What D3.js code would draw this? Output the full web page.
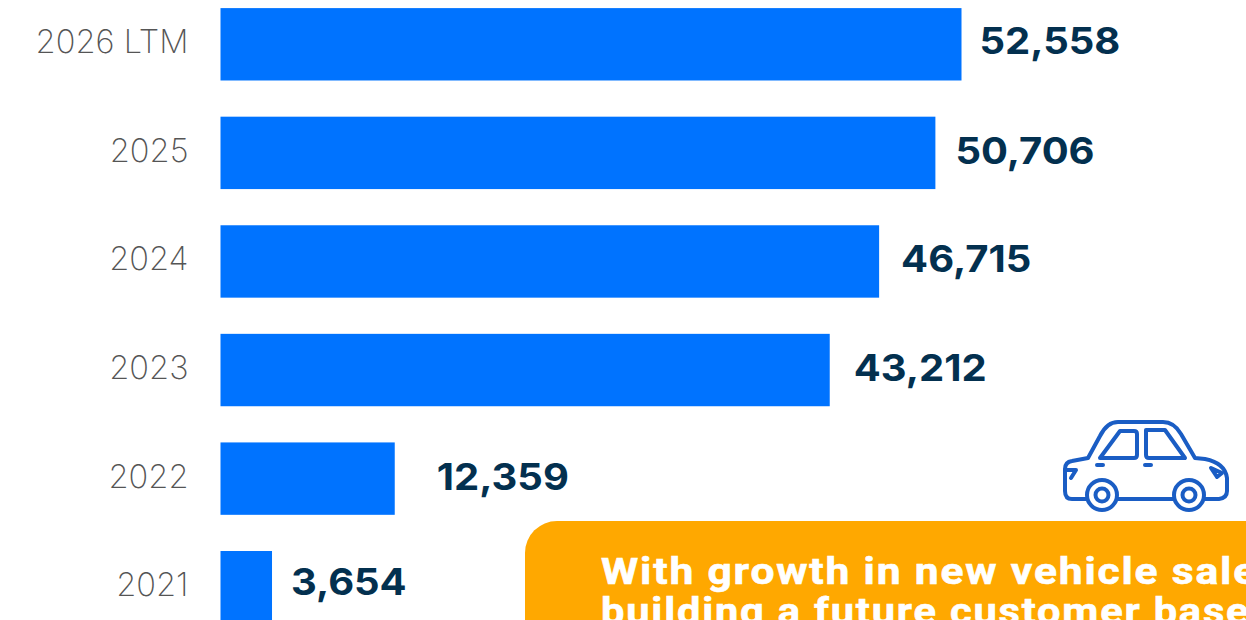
<!DOCTYPE html>
<html>
<head>
<meta charset="utf-8">
<script src="https://cdn.jsdelivr.net/npm/d3@7/dist/d3.min.js"></script>
<style>
  html, body { margin: 0; padding: 0; background: #fff; overflow: hidden; }
  svg { display: block; }
</style>
</head>
<body>
<svg id="chart" width="1246" height="620"></svg>
<script>
// Vehicle sales by year
const years = ["2026 LTM", "2025", "2024", "2023", "2022", "2021"];
const sales = [52558, 50706, 46715, 43212, 12359, 3654];
const labelGaps = [18, 20, 22, 24, 42, 19];
const labelRise = [0, -1, -1, -1, -1, 2];
const calloutLines = ["With growth in new vehicle sales,", "building a future customer base"];
const calloutStretch = [1.15, 1.125];

const svg = d3.select("#chart");

const x = d3.scaleLinear().domain([0, 52558]).range([220.5, 961.5]);
const y = d3.scaleBand().domain(years).range([-10, 641.5]).paddingInner(0.3333).paddingOuter(0.1667);

// Bars
svg.selectAll("rect.bar")
  .data(years)
  .join("rect")
  .attr("class", "bar")
  .attr("x", x(0))
  .attr("y", d => y(d))
  .attr("width", (d, i) => x(sales[i]) - x(0))
  .attr("height", y.bandwidth())
  .attr("fill", "#0073FF");

// Category axis, no domain line or ticks
const axis = svg.append("g")
  .attr("transform", `translate(${x(0) - 32},-1.5)`)
  .call(d3.axisLeft(y).tickSize(0).tickPadding(0));
axis.select(".domain").remove();
axis.selectAll("text")
  .attr("font-family", "Inter, 'Liberation Sans', sans-serif")
  .attr("font-weight", 200)
  .attr("font-size", 32.6)
  .attr("fill", "#555555");

// Value labels, set slightly extended
svg.selectAll("text.value")
  .data(years)
  .join("text")
  .attr("class", "value")
  .attr("transform", (d, i) =>
    `translate(${x(sales[i]) + labelGaps[i]},${y(d) + y.bandwidth() / 2 + 10 - labelRise[i]}) scale(1.08,1)`)
  .attr("font-family", "Inter, 'Liberation Sans', sans-serif")
  .attr("font-weight", 700)
  .attr("font-size", 37)
  .attr("fill", "#03304F")
  .text((d, i) => d3.format(",")(sales[i]));

// Callout panel
svg.append("rect")
  .attr("x", 525).attr("y", 521)
  .attr("width", 800).attr("height", 200)
  .attr("rx", 32).attr("ry", 32)
  .attr("fill", "#FFA800");

svg.selectAll("text.callout")
  .data(calloutLines)
  .join("text")
  .attr("class", "callout")
  .attr("transform", (d, i) => `translate(601,${584 + i * 40}) scale(${calloutStretch[i]},1)`)
  .attr("font-family", "Roboto, sans-serif")
  .attr("font-weight", 700)
  .attr("font-size", 37)
  .attr("letter-spacing", 1.6)
  .attr("fill", "#fff")
  .attr("stroke", "#fff")
  .attr("stroke-width", 0.6)
  .text(d => d);

// Car pictogram
const car = svg.append("g")
  .attr("fill", "none")
  .attr("stroke", "#1A5DC4")
  .attr("stroke-width", 4)
  .attr("stroke-linejoin", "round")
  .attr("stroke-linecap", "round");

car.append("path").attr("d",
  "M1087 499H1072Q1065 499 1065 491V469Q1065 462 1072 461L1088 458L1100 436Q1107 422 1118 422H1163Q1174 422 1181 434L1195 458L1205 459Q1225 463 1227 478V491Q1227 498 1219 499H1204M1118 499H1173");
car.append("path").attr("d", "M1120 431H1134Q1137 431 1137 434V455Q1137 458 1134 458H1100Z");
car.append("path").attr("d", "M1146 430H1165L1185 458H1149Q1146 458 1146 455Z");
car.append("path").attr("d", "M1097 465H1103M1145 465H1151M1067 470H1076L1071 478M1211 468L1222 473L1217 477Z");
[[1102, 495], [1189, 495]].forEach(([cx, cy]) => {
  car.append("circle").attr("cx", cx).attr("cy", cy).attr("r", 15);
  car.append("circle").attr("cx", cx).attr("cy", cy).attr("r", 6.5);
});
</script>
</body>
</html>
